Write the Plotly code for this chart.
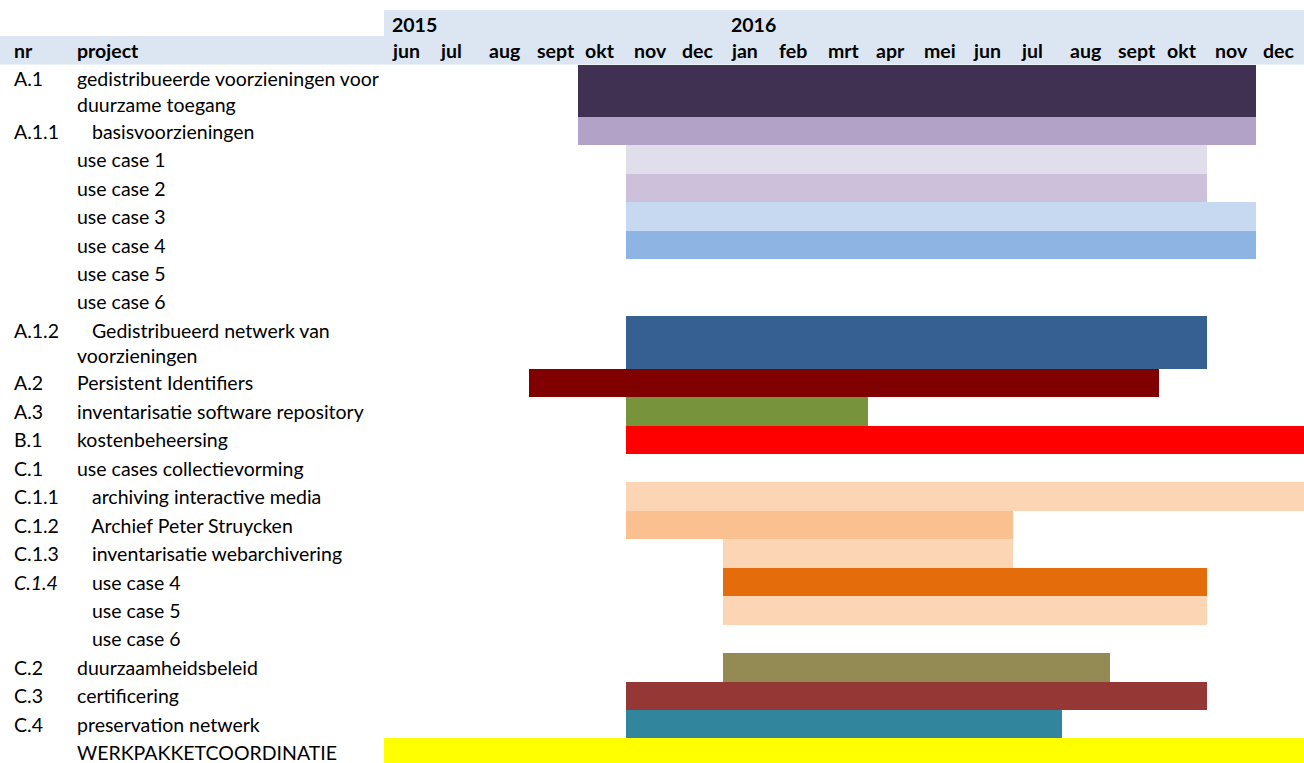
import plotly.graph_objects as go

# ---------------- data ----------------
months = ["jun", "jul", "aug", "sept", "okt", "nov", "dec",
          "jan", "feb", "mrt", "apr", "mei", "jun", "jul", "aug", "sept", "okt", "nov", "dec"]
month_keys = ["2015-06", "2015-07", "2015-08", "2015-09", "2015-10", "2015-11", "2015-12",
              "2016-01", "2016-02", "2016-03", "2016-04", "2016-05", "2016-06", "2016-07",
              "2016-08", "2016-09", "2016-10", "2016-11", "2016-12", "2017-01"]
years = {"2015": "2015-06", "2016": "2016-01"}

nr = ["A.1", "A.1.1", "", "", "", "", "", "", "A.1.2", "A.2", "A.3", "B.1", "C.1",
      "C.1.1", "C.1.2", "C.1.3", "C.1.4", "", "", "C.2", "C.3", "C.4", ""]
project = [
    "gedistribueerde voorzieningen voor\nduurzame toegang",
    "   basisvoorzieningen",
    "use case 1", "use case 2", "use case 3", "use case 4", "use case 5", "use case 6",
    "   Gedistribueerd netwerk van\nvoorzieningen",
    "Persistent Identifiers",
    "inventarisatie software repository",
    "kostenbeheersing",
    "use cases collectievorming",
    "   archiving interactive media",
    "   Archief Peter Struycken",
    "   inventarisatie webarchivering",
    "   use case 4", "   use case 5", "   use case 6",
    "duurzaamheidsbeleid",
    "certificering",
    "preservation netwerk",
    "WERKPAKKETCOORDINATIE",
]
# start month (inclusive) and end month (exclusive); None = no bar
start = ["2015-10", "2015-10", "2015-11", "2015-11", "2015-11", "2015-11", None, None,
         "2015-11", "2015-09", "2015-11", "2015-11", None,
         "2015-11", "2015-11", "2016-01", "2016-01", "2016-01", None,
         "2016-01", "2015-11", "2015-11", "2015-06"]
end = ["2016-12", "2016-12", "2016-11", "2016-11", "2016-12", "2016-12", None, None,
       "2016-11", "2016-10", "2016-04", "2017-01", None,
       "2017-01", "2016-07", "2016-07", "2016-11", "2016-11", None,
       "2016-09", "2016-11", "2016-08", "2017-01"]
colors = ["#403152", "#B3A2C7", "#E1DEEC", "#CCC0DA", "#C6D9F1", "#8EB4E3", None, None,
          "#376092", "#800000", "#77933C", "#FF0000", None,
          "#FCD5B5", "#FAC090", "#FCD5B5", "#E46C0A", "#FCD5B5", None,
          "#948A54", "#953735", "#31859C", "#FFFF00"]

# ---------------- layout constants ----------------
W, H = 1304, 763
FONT = "Lato"
FS = 19.5
LABEL_X0 = 384 / W           # left edge of the month grid (paper)
NR_X = 12 / W
PROJ_X = 75 / W
DOUBLE_ROW = 1.845
LINE_STEP = 0.9
HEADER_BAND = "#DCE6F2"
ROW_PX = 28.45
BODY_TOP_PX = 64.5

idx = {k: i for i, k in enumerate(month_keys)}

# row geometry in row units (y grows downward)
tops, heights = [], []
y = 0.0
for p in project:
    h = DOUBLE_ROW if "\n" in p else 1.0
    tops.append(y)
    heights.append(h)
    y += h

fig = go.Figure()

# bars
bx, bbase, by, bw, bc = [], [], [], [], []
for s, e, c, t, h in zip(start, end, colors, tops, heights):
    if s is None:
        continue
    bbase.append(idx[s])
    bx.append(idx[e] - idx[s])
    by.append(t + h / 2)
    bw.append(h)
    bc.append(c)
fig.add_trace(go.Bar(orientation="h", base=bbase, x=bx, y=by, width=bw,
                     marker=dict(color=bc, line=dict(width=0)),
                     hoverinfo="skip", showlegend=False))

y_top = -BODY_TOP_PX / ROW_PX
y_bot = (H - BODY_TOP_PX) / ROW_PX
n_m = len(months)

fig.update_xaxes(domain=[LABEL_X0, 1], range=[0, n_m], visible=False, fixedrange=True)
fig.update_yaxes(range=[y_bot, y_top], visible=False, fixedrange=True)

# header bands
year_top = (10 - BODY_TOP_PX) / ROW_PX
fig.add_shape(type="rect", xref="x", yref="y", x0=0, x1=n_m, y0=year_top, y1=-1.0,
              fillcolor=HEADER_BAND, line=dict(width=0), layer="below")
fig.add_shape(type="rect", xref="paper", yref="y", x0=0, x1=1, y0=-1.0, y1=0,
              fillcolor=HEADER_BAND, line=dict(width=0), layer="below")

ann = []
def txt(x, yv, s, xref="paper", bold=False, italic=False):
    s = s.replace(" ", "\u00a0") if s.startswith(" ") else s
    if bold:
        s = "<b>" + s + "</b>"
    if italic:
        s = "<i>" + s + "</i>"
    ann.append(dict(x=x, y=yv, xref=xref, yref="y", text=s, showarrow=False,
                    xanchor="left", yanchor="middle",
                    font=dict(family=FONT, size=FS, color="#000000")))

# header texts
txt(NR_X, -0.5, "nr", bold=True)
txt(PROJ_X, -0.5, "project", bold=True)
for i, m in enumerate(months):
    txt(i + 0.12, -0.5, m, xref="x", bold=True)
for yname, key in years.items():
    txt(idx[key] + 0.12, (year_top - 1.0) / 2 + 0.05, yname, xref="x", bold=True)

# row texts
for n, p, t in zip(nr, project, tops):
    lines = p.split("\n")
    if n:
        txt(NR_X, t + 0.5, n, italic=(n == "C.1.4"))
    for k, line in enumerate(lines):
        txt(PROJ_X, t + 0.5 + LINE_STEP * k, line)

fig.update_layout(width=W, height=H, margin=dict(l=0, r=0, t=0, b=0),
                  paper_bgcolor="white", plot_bgcolor="white",
                  barmode="overlay", bargap=0, annotations=ann)

fig.write_html("out.html", config={"displayModeBar": False},
               post_script="document.body.style.margin='0';document.body.style.padding='0';"
                           "document.body.style.overflow='hidden';")
